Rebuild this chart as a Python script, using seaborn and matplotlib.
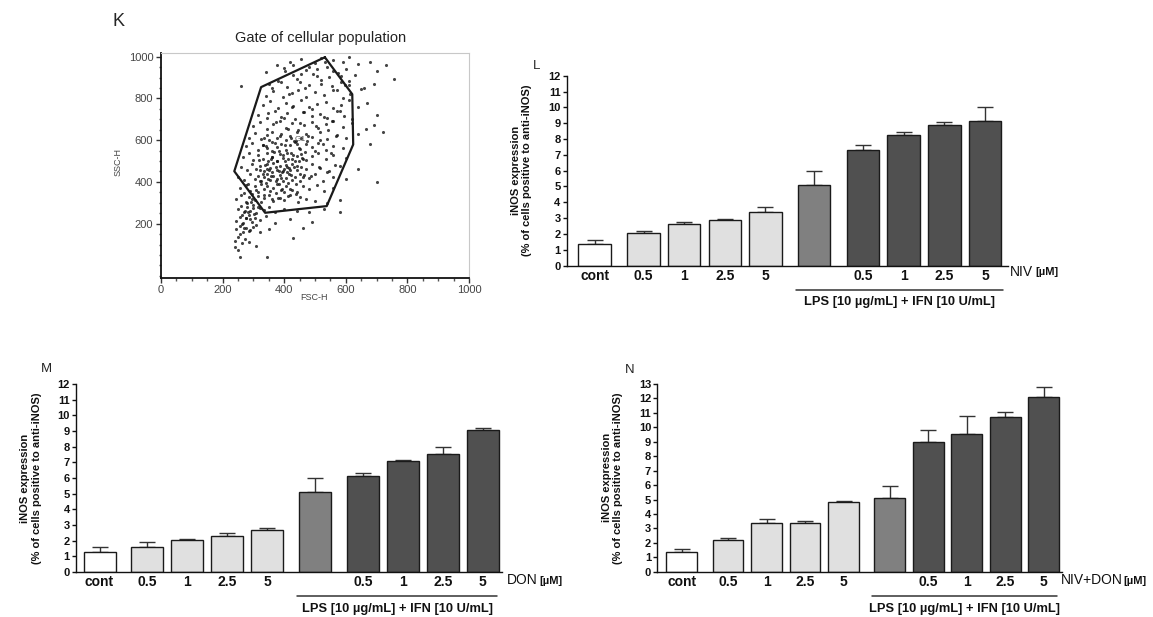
import numpy as np
import pandas as pd
import matplotlib
matplotlib.use("Agg")
import matplotlib.pyplot as plt
from matplotlib.ticker import MultipleLocator
from matplotlib.transforms import blended_transform_factory
import seaborn as sns

sns.set_theme(style="ticks")
plt.rcParams["font.family"] = ["Liberation Sans", "DejaVu Sans"]

# ---------------- data ----------------
# Panel K: flow-cytometry events (FSC-H, SSC-H)
fsc_h = [420, 455, 500, 520, 560, 590, 610, 640, 680,
         340, 400, 430, 470, 505, 540, 575, 600, 630, 700, 730,
         260, 350, 380, 410, 450, 480, 520, 555, 585, 610, 660, 690, 755,
         340, 365, 395, 425, 445, 470, 500, 530, 560, 590, 615, 650,
         330, 355, 380, 405, 430, 455, 480, 505, 535, 560, 585, 610, 640, 670,
         315, 345, 370, 390, 410, 435, 460, 490, 515, 540, 570, 595, 620, 700,
         300, 320, 345, 365, 385, 405, 425, 445, 465, 490, 510, 535, 560, 590, 620, 665, 690,
         285, 305, 325, 345, 360, 375, 390, 405, 420, 440, 455, 470, 490, 515, 540, 570, 600, 640, 720,
         275, 295, 315, 330, 345, 360, 375, 390, 405, 420, 435, 450, 470, 490, 510, 535, 560, 590, 680,
         265, 285, 300, 315, 330, 345, 360, 375, 385, 395, 410, 425, 440, 455, 470, 490, 510, 535, 560, 600,
         260, 280, 295, 310, 320, 335, 345, 355, 365, 375, 385, 395, 405, 415, 425, 440, 455, 470, 490, 515, 545, 580, 640,
         250, 270, 290, 305, 315, 325, 335, 345, 355, 365, 375, 385, 395, 405, 415, 425, 435, 450, 465, 480, 500, 525, 560, 600, 700,
         255, 275, 290, 305, 315, 325, 335, 345, 355, 365, 375, 390, 405, 420, 440, 460, 480, 505, 530, 560,
         245, 260, 275, 285, 295, 305, 315, 325, 335, 350, 365, 380, 400, 420, 445, 470, 500, 540, 580,
         250, 260, 270, 280, 290, 300, 310, 320, 335, 350, 370, 400, 440, 480, 530, 580,
         245, 255, 265, 275, 285, 295, 305, 320, 340, 370, 420, 490,
         245, 255, 265, 275, 285, 300, 320, 350, 460,
         240, 250, 262, 272, 285, 310, 430,
         240, 250, 255, 345,
         330, 342, 352, 362, 372, 382, 392, 402, 412, 422, 432, 442, 352, 372, 392, 412, 432, 452, 338, 358,
         378, 398, 418, 438, 458, 348, 368, 388, 408, 428, 448, 468, 322, 342, 362, 382, 402, 422, 442, 462,
         262, 278, 288, 298, 308, 268, 282, 292, 258, 272,
         335, 348, 361, 374, 387, 400, 413, 426, 439, 452, 465, 478, 491, 504, 517, 530, 543, 556, 569, 582,
         318, 331, 344, 357, 370, 383, 396, 409, 422, 435, 448, 461, 474, 487, 500, 513, 526, 539, 552, 565,
         268, 281, 294, 307, 320, 333, 346, 359, 372, 385, 398, 411, 424, 437, 450, 263, 276, 289, 302, 315,
         362, 388, 414, 440, 466, 492, 518, 544, 570, 596, 376, 402, 428, 454, 480, 506, 532, 558, 584, 610]
ssc_h = [975, 990, 968, 995, 985, 972, 998, 965, 975,
         925, 945, 910, 935, 905, 950, 920, 940, 912, 930, 960,
         860, 870, 885, 855, 878, 862, 890, 858, 880, 866, 852, 870, 892,
         812, 835, 808, 826, 840, 805, 830, 815, 838, 802, 822, 845,
         770, 788, 752, 780, 765, 790, 758, 775, 785, 755, 770, 792, 760, 778,
         720, 705, 738, 712, 728, 702, 735, 715, 725, 708, 740, 718, 702, 720,
         668, 685, 655, 678, 692, 660, 682, 650, 672, 688, 658, 676, 690, 662, 680, 655, 672,
         612, 635, 605, 625, 640, 610, 630, 602, 620, 638, 608, 628, 615, 640, 606, 625, 612, 630, 640,
         570, 588, 555, 578, 560, 590, 566, 582, 552, 575, 592, 558, 580, 565, 586, 555, 572, 560, 580,
         520, 538, 505, 528, 512, 540, 518, 502, 532, 515, 540, 508, 525, 535, 505, 522, 538, 510, 528, 515,
         470, 455, 488, 462, 478, 452, 485, 468, 490, 458, 475, 450, 482, 465, 488, 455, 472, 460, 485, 468, 452, 478, 462,
         425, 410, 438, 415, 430, 402, 422, 440, 408, 428, 415, 435, 405, 420, 438, 410, 425, 402, 432, 418, 440, 406, 425, 412, 400,
         372, 385, 358, 378, 352, 388, 365, 380, 355, 372, 390, 360, 382, 368, 352, 378, 365, 385, 358, 372,
         318, 335, 305, 328, 340, 312, 330, 302, 322, 338, 308, 325, 315, 335, 305, 320, 310, 300, 315,
         270, 285, 255, 278, 262, 288, 252, 275, 265, 282, 258, 272, 260, 255, 268, 258,
         215, 232, 205, 225, 240, 210, 228, 218, 235, 205, 222, 210,
         172, 188, 158, 180, 165, 185, 160, 175, 180,
         118, 135, 105, 128, 112, 95, 130,
         88, 72, 40, 40,
         440, 395, 455, 520, 405, 548, 445, 498, 395, 540, 470, 580, 600, 470, 368, 512, 598, 440, 480, 430,
         498, 462, 458, 388, 515, 502, 545, 418, 448, 528, 498, 545, 455, 570, 445, 392, 575, 432, 478, 425,
         240, 300, 220, 275, 195, 180, 255, 305, 150, 262,
         612, 732, 548, 688, 622, 705, 652, 758, 598, 682, 735, 622, 748, 668, 602, 712, 648, 692, 618, 738,
         505, 575, 462, 508, 585, 452, 528, 472, 612, 498, 562, 512, 595, 428, 548, 472, 582, 448, 538, 482,
         345, 392, 318, 362, 405, 338, 412, 318, 348, 322, 352, 332, 362, 342, 328, 198, 228, 168, 248, 282,
         852, 878, 822, 892, 848, 918, 868, 902, 842, 862, 962, 932, 958, 918, 950, 940, 975, 930, 905, 882]
gate_fsc = [532, 621, 624, 538, 338, 238, 325, 532]
gate_ssc = [997, 820, 579, 284, 252, 451, 854, 997]
k_xticks = [0, 200, 400, 600, 800, 1000]
k_yticks = [200, 400, 600, 800, 1000]

# Bar panels L, M, N
bar_labels = ["cont", "0.5", "1", "2.5", "5", "", "0.5", "1", "2.5", "5"]
bar_groups = ["cont", "toxin", "toxin", "toxin", "toxin", "LPS",
              "LPS+toxin", "LPS+toxin", "LPS+toxin", "LPS+toxin"]
pos_LM = [0, 1.2, 2.2, 3.2, 4.2, 5.4, 6.6, 7.6, 8.6, 9.6]
pos_N = [0, 1.2, 2.2, 3.2, 4.2, 5.4, 6.4, 7.4, 8.4, 9.4]

L_mean = [1.35, 2.05, 2.65, 2.90, 3.40, 5.10, 7.33, 8.27, 8.86, 9.12]
L_err = [0.27, 0.16, 0.09, 0.02, 0.27, 0.90, 0.29, 0.19, 0.21, 0.88]
M_mean = [1.30, 1.57, 2.06, 2.28, 2.68, 5.08, 6.14, 7.10, 7.55, 9.07]
M_err = [0.27, 0.32, 0.02, 0.21, 0.16, 0.90, 0.17, 0.08, 0.44, 0.11]
N_mean = [1.34, 2.20, 3.40, 3.37, 4.86, 5.08, 8.96, 9.55, 10.69, 12.10]
N_err = [0.25, 0.10, 0.28, 0.14, 0.05, 0.88, 0.86, 1.20, 0.39, 0.67]

palette = {"cont": "#ffffff", "toxin": "#e0e0e0", "LPS": "#808080", "LPS+toxin": "#505050"}
lps_text = "LPS [10 µg/mL] + IFN [10 U/mL]"

# ---------------- figure ----------------
W, H = 1153, 617
fig = plt.figure(figsize=(W / 100, H / 100), dpi=100)
fig.patch.set_facecolor("white")


def axes_px(l, t, r, b):
    return fig.add_axes([l / W, 1 - b / H, (r - l) / W, (b - t) / H])


def ftext(x, y, s, **kw):
    return fig.text(x / W, 1 - y / H, s, **kw)


# ---------- Panel K ----------
axK = axes_px(161, 53.3, 469, 277.7)
sns.scatterplot(x=fsc_h, y=ssc_h, s=5, color="#111111", linewidth=0, alpha=0.78, ax=axK)
axK.plot(gate_fsc, gate_ssc, color="#1a1a1a", lw=1.6)
axK.text(451, 602, "G1", fontsize=6, color="#555555", ha="center", va="center")
axK.set_xlim(0, 1000)
axK.set_ylim(-59, 1016)
axK.set_xticks(k_xticks)
axK.set_yticks(k_yticks)
axK.xaxis.set_minor_locator(MultipleLocator(50))
axK.yaxis.set_minor_locator(MultipleLocator(50))
axK.tick_params(which="major", length=3.5, width=1, color="#333333", labelsize=8,
                labelcolor="#444444", pad=2)
axK.tick_params(which="minor", length=1.8, width=1, color="#555555")
for s in ["left", "bottom"]:
    axK.spines[s].set_color("#111111")
    axK.spines[s].set_linewidth(1.3)
for s in ["top", "right"]:
    axK.spines[s].set_color("#c8c8c8")
    axK.spines[s].set_linewidth(0.8)
axK.set_xlabel("")
axK.set_ylabel("")
ftext(119, 22, "K", fontsize=13, ha="center", va="center")
ftext(321, 38, "Gate of cellular population", fontsize=10.5, ha="center", va="center",
      color="#222222")
ftext(118, 162, "SSC-H", fontsize=6.5, rotation=90, ha="center", va="center", color="#444444")
ftext(314, 298, "FSC-H", fontsize=6.5, ha="center", va="center", color="#444444")


# ---------- bar panels ----------
def bar_panel(box, pos, mean, err, ymax, xlim, letter, letter_xy, unit_name, unit_xy):
    l, t, r, b = box
    ax = axes_px(l, t, r, b)
    df = pd.DataFrame({"pos": pos, "val": mean, "grp": bar_groups})
    sns.barplot(data=df, x="pos", y="val", hue="grp", palette=palette, native_scale=True,
                dodge=False, width=0.8, edgecolor="#1a1a1a", linewidth=1.0,
                errorbar=None, legend=False, saturation=1, ax=ax, zorder=2)
    ax.errorbar(pos, mean, yerr=[np.zeros(len(err)), err], fmt="none", ecolor="#333333",
                elinewidth=1.0, capsize=5.5, capthick=1.0, zorder=1)
    ax.set_xlim(*xlim)
    ax.set_ylim(0, ymax)
    ax.set_yticks(range(0, ymax + 1))
    ax.set_xticks(pos)
    ax.set_xticklabels(bar_labels)
    ax.set_xlabel("")
    ax.set_ylabel("")
    sns.despine(ax=ax)
    for s in ["left", "bottom"]:
        ax.spines[s].set_color("#111111")
        ax.spines[s].set_linewidth(1.0)
    ax.tick_params(axis="y", length=3, width=1, color="#111111", pad=1.5, labelsize=8)
    ax.tick_params(axis="x", length=0, pad=2.5, labelsize=10)
    for tl in ax.get_xticklabels() + ax.get_yticklabels():
        tl.set_fontweight("bold")
        tl.set_color("#111111")
    hpx = b - t
    tr = blended_transform_factory(ax.transData, ax.transAxes)
    x0 = pos[5] - 0.45
    x1 = xlim[1] - 0.12
    ax.plot([x0, x1], [-24 / hpx, -24 / hpx], transform=tr, clip_on=False,
            color="#333333", lw=1.1)
    ax.text((x0 + x1) / 2, -37 / hpx, lps_text, transform=tr, ha="center", va="center",
            fontsize=9.3, fontweight="bold", color="#111111")
    # y label
    ftext(l - 45, (t + b) / 2, "iNOS expression\n(% of cells positive to anti-iNOS)",
          rotation=90, ha="center", va="center", fontsize=8, fontweight="bold",
          linespacing=1.15, color="#111111")
    ftext(letter_xy[0], letter_xy[1], letter, fontsize=9.5, ha="center", va="center")
    tu = ftext(unit_xy[0], unit_xy[1], unit_name, fontsize=10, ha="left", va="center",
               color="#111111")
    fig.canvas.draw()
    bb = tu.get_window_extent()
    ftext(bb.x1 + unit_xy[2], unit_xy[1], "[µM]", fontsize=8, fontweight="bold",
          ha="left", va="center", color="#111111")
    return ax


bar_panel((566.7, 75.7, 1007.7, 265.5), pos_LM, L_mean, L_err, 12, (-0.69, 10.16),
          "L", (537, 66), "NIV", (1010, 272, 2))
bar_panel((76, 384, 502, 572), pos_LM, M_mean, M_err, 12, (-0.59, 10.08),
          "M", (46.5, 369), "DON", (507, 580.5, 2))
bar_panel((657.5, 384, 1062, 571.7), pos_N, N_mean, N_err, 13, (-0.63, 9.87),
          "N", (630, 370), "NIV+DON", (1061, 580.5, 0.5))

fig.savefig("out.png", dpi=100, facecolor="white")
